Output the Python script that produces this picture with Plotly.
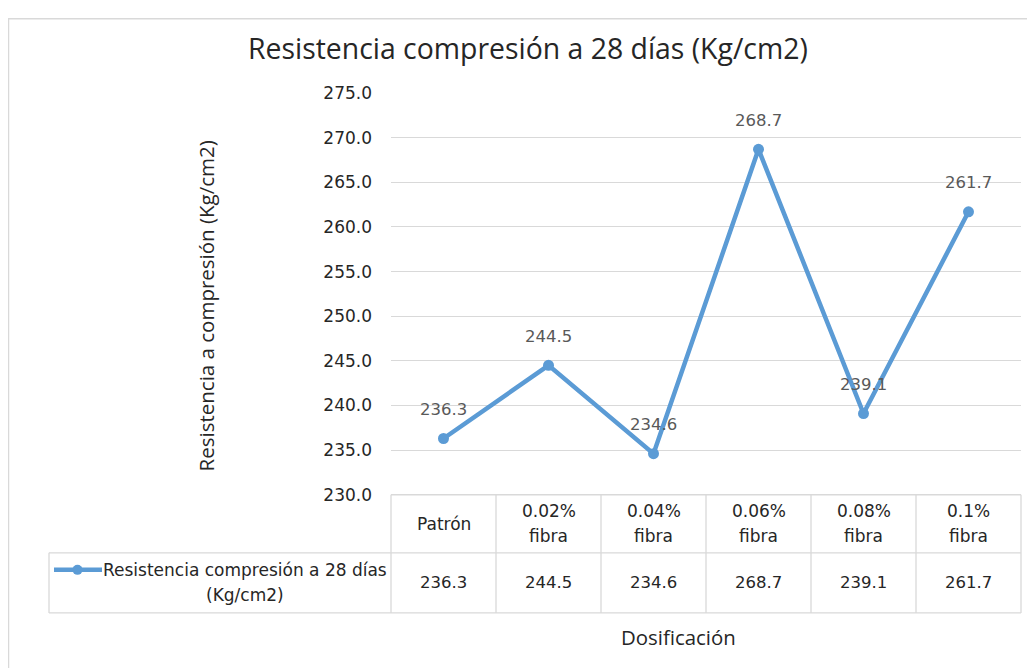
import plotly.graph_objects as go

categories = ["Patrón", "0.02% fibra", "0.04% fibra", "0.06% fibra", "0.08% fibra", "0.1% fibra"]
cat_line1 = ["Patrón", "0.02%", "0.04%", "0.06%", "0.08%", "0.1%"]
cat_line2 = ["", "fibra", "fibra", "fibra", "fibra", "fibra"]
values = [236.3, 244.5, 234.6, 268.7, 239.1, 261.7]
series_line1 = "Resistencia compresión a 28 días"
series_line2 = "(Kg/cm2)"
chart_title = "Resistencia compresión a 28 días (Kg/cm2)"
y_title = "Resistencia a compresión (Kg/cm2)"
x_title = "Dosificación"
y_ticks = [230, 235, 240, 245, 250, 255, 260, 265, 270, 275]

W, H = 1035, 668
# screen -> paper mapping (page offset / vertical fit observed in renderer)
OX, OY, VH = 7, 17, 647

def sx(X):
    return (X - OX) / W

def sy(Y):
    return 1 - (Y - OY) / VH

X0, X1 = 390, 1020
Y_TOP, Y_BOT = 92, 493
ROW1_BOT, ROW2_BOT = 551, 611
LEG_X0 = 48
BLUE = "#5B9BD5"
GRID = "#D9D9D9"
TXT = "#262626"
FONT = "DejaVu Sans"
TFONT = "Open Sans"

n = len(categories)
xs = list(range(n))

fig = go.Figure()
fig.add_trace(go.Scatter(
    x=xs, y=values, mode="lines+markers",
    line=dict(color=BLUE, width=4.5),
    marker=dict(color=BLUE, size=11),
    cliponaxis=False,
    showlegend=False,
))

shapes = []
# outer chart border
shapes.append(dict(type="rect", xref="paper", yref="paper",
                   x0=sx(7.5), x1=sx(1060), y0=sy(700), y1=0.999,
                   line=dict(color=GRID, width=1.5)))
cell_w = (X1 - X0) / n
ls = dict(color=GRID, width=1.3)
shapes.append(dict(type="line", xref="paper", yref="paper", x0=sx(X0), x1=sx(X1), y0=sy(Y_BOT), y1=sy(Y_BOT), line=ls))
shapes.append(dict(type="line", xref="paper", yref="paper", x0=sx(LEG_X0), x1=sx(X1), y0=sy(ROW1_BOT), y1=sy(ROW1_BOT), line=ls))
shapes.append(dict(type="line", xref="paper", yref="paper", x0=sx(LEG_X0), x1=sx(X1), y0=sy(ROW2_BOT), y1=sy(ROW2_BOT), line=ls))
for i in range(n + 1):
    xx = X0 + i * cell_w
    shapes.append(dict(type="line", xref="paper", yref="paper", x0=sx(xx), x1=sx(xx), y0=sy(Y_BOT), y1=sy(ROW2_BOT), line=ls))
shapes.append(dict(type="line", xref="paper", yref="paper", x0=sx(LEG_X0), x1=sx(LEG_X0), y0=sy(ROW1_BOT), y1=sy(ROW2_BOT), line=ls))
# legend key
shapes.append(dict(type="line", xref="paper", yref="paper", x0=sx(53), x1=sx(101), y0=sy(568), y1=sy(568), line=dict(color=BLUE, width=4.5)))
shapes.append(dict(type="circle", xref="paper", yref="paper", x0=sx(71.5), x1=sx(81.5), y0=sy(573), y1=sy(563), line=dict(color=BLUE, width=0), fillcolor=BLUE))

annotations = []
# data labels above points
for i in range(n):
    annotations.append(dict(x=xs[i], y=values[i], xref="x", yref="y", text=f"{values[i]:.1f}",
                            showarrow=False, yshift=29, xanchor="center", yanchor="middle",
                            font=dict(family=FONT, size=16.5, color="#595959")))
# table cells
for i in range(n):
    cx = X0 + (i + 0.5) * cell_w
    if cat_line2[i]:
        annotations.append(dict(xref="paper", yref="paper", x=sx(cx), y=sy(509), text=cat_line1[i],
                                showarrow=False, xanchor="center", yanchor="middle",
                                font=dict(family=FONT, size=17, color=TXT)))
        annotations.append(dict(xref="paper", yref="paper", x=sx(cx), y=sy(534), text=cat_line2[i],
                                showarrow=False, xanchor="center", yanchor="middle",
                                font=dict(family=FONT, size=17, color=TXT)))
    else:
        annotations.append(dict(xref="paper", yref="paper", x=sx(cx), y=sy(522), text=cat_line1[i],
                                showarrow=False, xanchor="center", yanchor="middle",
                                font=dict(family=FONT, size=17, color=TXT)))
    annotations.append(dict(xref="paper", yref="paper", x=sx(cx), y=sy(581),
                            text=f"{values[i]:.1f}", showarrow=False, xanchor="center", yanchor="middle",
                            font=dict(family=FONT, size=16.5, color=TXT)))
annotations.append(dict(xref="paper", yref="paper", x=sx(244), y=sy(568), text=series_line1,
                        showarrow=False, xanchor="center", yanchor="middle",
                        font=dict(family=FONT, size=17, color=TXT)))
annotations.append(dict(xref="paper", yref="paper", x=sx(244), y=sy(593), text=series_line2,
                        showarrow=False, xanchor="center", yanchor="middle",
                        font=dict(family=FONT, size=17, color=TXT)))
annotations.append(dict(xref="paper", yref="paper", x=sx(677), y=sy(635), text=x_title,
                        showarrow=False, xanchor="center", yanchor="middle",
                        font=dict(family=TFONT, size=20.4, color=TXT)))
annotations.append(dict(xref="paper", yref="paper", x=sx(205), y=sy(305), text=y_title,
                        showarrow=False, textangle=-90, xanchor="center", yanchor="middle",
                        font=dict(family=TFONT, size=20.5, color=TXT)))
annotations.append(dict(xref="paper", yref="paper", x=sx(526.5), y=sy(47), text=chart_title,
                        showarrow=False, xanchor="center", yanchor="middle",
                        font=dict(family=TFONT, size=28.4, color=TXT)))

fig.update_layout(
    width=W, height=H,
    margin=dict(l=0, r=0, t=0, b=0),
    paper_bgcolor="white", plot_bgcolor="white",
    xaxis=dict(domain=[sx(X0), sx(X1)], range=[-0.5, n - 0.5], showticklabels=False,
               showgrid=False, zeroline=False, showline=False, ticks="", fixedrange=True),
    yaxis=dict(domain=[sy(Y_BOT), sy(Y_TOP)], range=[230, 275], tickvals=y_ticks,
               ticktext=[f"{t:.1f}" for t in y_ticks], showgrid=True, gridcolor=GRID, gridwidth=1.3,
               zeroline=False, showline=False, ticks="", ticklabelstandoff=18,
               tickfont=dict(family=FONT, size=17, color=TXT)),
    shapes=shapes, annotations=annotations,
)

fig.write_html("out.html")
